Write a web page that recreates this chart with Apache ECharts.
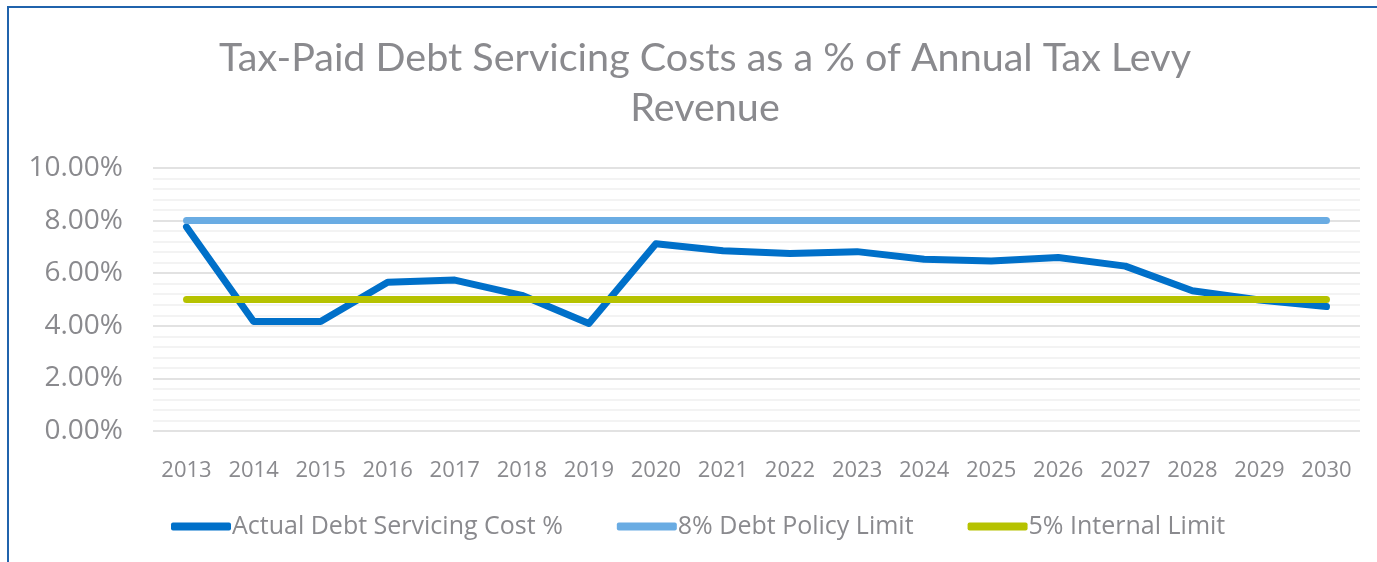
<!DOCTYPE html>
<html>
<head>
<meta charset="utf-8">
<script src="https://cdn.jsdelivr.net/npm/echarts@6/dist/echarts.min.js"></script>
<style>
  html, body { margin: 0; padding: 0; background: #fff; }
  #main { position: absolute; left: 0; top: 0; width: 1377px; height: 562px; }
  #frame {
    position: absolute; left: 7px; top: 6px; width: 1400px; height: 600px;
    border-top: 2px solid #2063ac; border-left: 2px solid #2063ac;
    pointer-events: none;
  }
</style>
</head>
<body>
<div id="main"></div>
<div id="frame"></div>
<script>
// 年份
const years = ['2013', '2014', '2015', '2016', '2017', '2018', '2019', '2020', '2021',
  '2022', '2023', '2024', '2025', '2026', '2027', '2028', '2029', '2030']
// actual debt servicing cost %
const actualCost = [7.76, 4.16, 4.16, 5.66, 5.74, 5.16, 4.09, 7.12, 6.85,
  6.75, 6.82, 6.53, 6.46, 6.6, 6.27, 5.33, 4.98, 4.73]
const policyLimit = [8, 8, 8, 8, 8, 8, 8, 8, 8, 8, 8, 8, 8, 8, 8, 8, 8, 8]
const internalLimit = [5, 5, 5, 5, 5, 5, 5, 5, 5, 5, 5, 5, 5, 5, 5, 5, 5, 5]
const yTicks = [0, 2, 4, 6, 8, 10]

const gray = '#8a8a8e'
const titleFont = 'Lato, "Open Sans", sans-serif'
const labelFont = '"Open Sans", Lato, sans-serif'

let myChart = echarts.init(document.getElementById('main'))

const lineSeries = (name, data, color) => ({
  name: name,
  type: 'line',
  data: data,
  symbol: 'none', // 去除原点
  color: color,
  lineStyle: { color: color, width: 7, cap: 'round', join: 'round' },
  emphasis: { disabled: true }
})

let options = {
  animation: false,
  textStyle: { fontFamily: labelFont, color: gray },
  title: {
    text: 'Tax-Paid Debt Servicing Costs as a % of Annual Tax Levy\nRevenue',
    left: 700,
    top: 28,
    textAlign: 'center',
    textStyle: {
      fontFamily: titleFont,
      fontSize: 39.5,
      fontWeight: 'normal',
      color: gray,
      lineHeight: 50,
      align: 'center'
    }
  },
  grid: {
    left: 153,
    right: 17,
    top: 168,
    bottom: 131,
    containLabel: false
  },
  legend: {
    left: 166,
    top: 509,
    icon: 'roundRect',
    itemWidth: 60,
    itemHeight: 8,
    itemGap: 54,
    textStyle: { color: gray, fontSize: 25, fontFamily: labelFont, padding: [0, 0, 0, -4] },
    data: ['Actual Debt Servicing Cost %', '8% Debt Policy Limit', '5% Internal Limit']
  },
  xAxis: {
    type: 'category',
    data: years,
    boundaryGap: true,
    axisLine: { show: false },
    axisTick: { show: false },
    axisLabel: { color: gray, fontSize: 22, margin: 29, fontFamily: labelFont }
  },
  yAxis: {
    type: 'value',
    min: yTicks[0],
    max: yTicks[yTicks.length - 1],
    interval: 2,
    axisLine: { show: false },
    axisTick: { show: false },
    axisLabel: {
      color: gray,
      fontSize: 28,
      margin: 30,
      fontFamily: labelFont,
      formatter: v => v.toFixed(2) + '%'
    },
    splitLine: { show: true, lineStyle: { color: '#d9d9d9', width: 1.5 } },
    minorTick: { show: false, splitNumber: 5 },
    minorSplitLine: { show: true, lineStyle: { color: '#f0f0f0', width: 1.5 } }
  },
  series: [
    lineSeries('Actual Debt Servicing Cost %', actualCost, '#0070c9'),
    lineSeries('8% Debt Policy Limit', policyLimit, '#6aace3'),
    lineSeries('5% Internal Limit', internalLimit, '#b6c200')
  ]
}

myChart.setOption(options)
</script>
</body>
</html>
